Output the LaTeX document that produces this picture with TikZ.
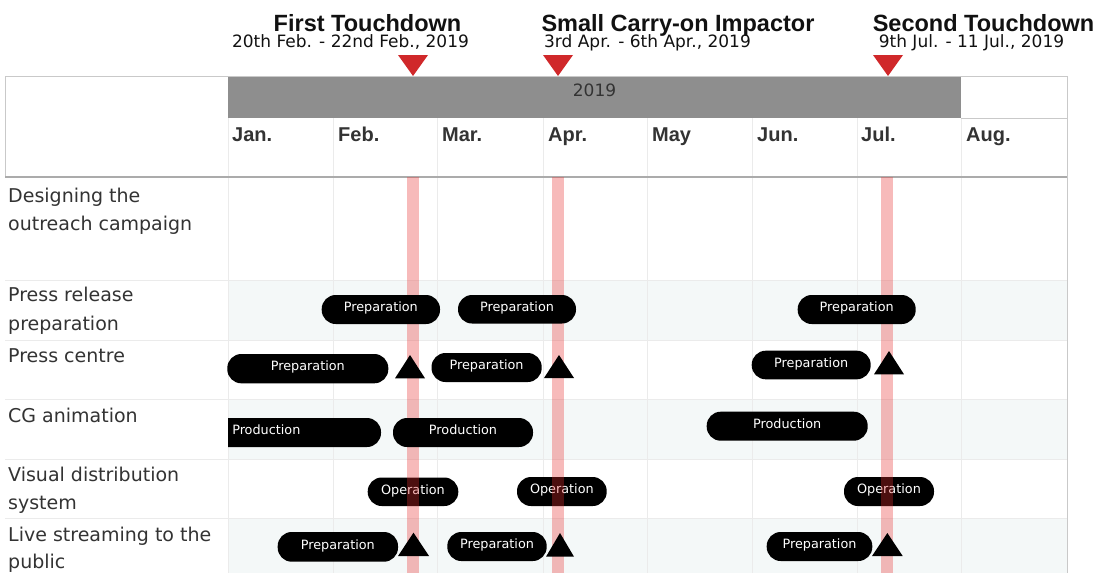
\documentclass[tikz,border=0pt]{standalone}
\usepackage{fontspec}
\setmainfont{DejaVu Sans}
\newfontfamily\headfont{Liberation Sans}

\definecolor{labelgray}{HTML}{333333}
\definecolor{titleblack}{HTML}{111111}
\definecolor{gridgray}{HTML}{EBEBEB}
\definecolor{bordergray}{HTML}{C9C9C9}
\definecolor{rulegray}{HTML}{ABABAB}
\definecolor{bargray}{HTML}{8E8E8E}
\definecolor{rowtint}{HTML}{F4F8F8}
\definecolor{stripered}{HTML}{E83030}
\definecolor{markred}{HTML}{D0282A}

% activity bar: name, left x, right x, top y, bottom y, text
\newcommand{\gpill}[6]{%
  \node[pill, minimum width={#3-#2}, minimum height={#5-#4}] (#1)
    at ({(#2+#3)/2},{(#4+#5)/2}) {#6};}
% black milestone triangle: left x, right x, apex y, base y
\newcommand{\milestonemark}[4]{%
  \fill[milestone] (#1,#4) -- ({(#1+#2)/2},#3) -- (#2,#4) -- cycle;}
% red event marker above the year bar, centred on x
\newcommand{\eventmark}[1]{%
  \fill[markred] ({#1-15},55) -- ({#1+15},55) -- (#1,76) -- cycle;}

\begin{document}
\begin{tikzpicture}[x=1pt,y=-1pt,
  pill/.style={fill=black, rounded corners=14pt, inner sep=0pt, text=white,
    font=\fontsize{12.8}{14}\selectfont, text height=9.5pt, text depth=5pt},
  rowlabel/.style={anchor=base west, inner sep=0pt, text=labelgray,
    font=\fontsize{19}{22}\selectfont},
  month/.style={anchor=base west, inner sep=0pt, text=labelgray,
    font=\headfont\bfseries\fontsize{20}{24}\selectfont},
  title/.style={anchor=base, inner sep=0pt, text=titleblack,
    font=\headfont\bfseries\fontsize{23.5}{28}\selectfont},
  subtitle/.style={anchor=base, inner sep=0pt, text=titleblack,
    font=\fontsize{17}{20}\selectfont},
  grid/.style={draw=gridgray, line width=1pt},
  stripe/.style={fill=stripered, opacity=0.33},
  milestone/.style={fill=black}]

\useasboundingbox (0,0) rectangle (1099,573);
\fill[white] (0,0) rectangle (1099,573);

% alternate row shading
\fill[rowtint] (228,280) rectangle (1067,340);
\fill[rowtint] (228,399) rectangle (1067,459);
\fill[rowtint] (228,518) rectangle (1067,573);

% month and row grid
\foreach \x in {333,437,543,647,752,857,961} \draw[grid] (\x,118) -- (\x,573);
\draw[grid] (228,76) -- (228,573);
\foreach \y in {280,340,399,459,518} \draw[grid] (5,\y) -- (1067,\y);

% header: year bar and borders
\fill[bargray] (228,76) rectangle (961,118);
\draw[bordergray] (961,118) -- (1067,118);
\draw[bordergray] (5,76) -- (1067,76);
\draw[bordergray] (5,76) -- (5,177);
\draw[bordergray] (1067,76) -- (1067,573);
\draw[rulegray, line width=2pt] (5,177.3) -- (1067,177.3);

\node[anchor=base, inner sep=0pt, text=labelgray, font=\fontsize{17}{20}\selectfont]
  (year) at (594.5,96.7) {2019};

% month labels
\node[month] (jan) at (232,141.3) {Jan.};
\node[month] (feb) at (338,141.3) {Feb.};
\node[month] (mar) at (442,141.3) {Mar.};
\node[month] (apr) at (548,141.3) {Apr.};
\node[month] (may) at (652,141.3) {May};
\node[month] (jun) at (757,141.3) {Jun.};
\node[month] (jul) at (861,141.3) {Jul.};
\node[month] (aug) at (966,141.3) {Aug.};

% event titles
\node[title] (t1) at (367.5,31.7) {First Touchdown};
\node[subtitle] (d1) at (350.5,47.7) {20th Feb. - 22nd Feb., 2019};
\node[title] (t2) at (678,31.7) {Small Carry-on Impactor};
\node[subtitle] (d2) at (647.5,47.7) {3rd Apr. - 6th Apr., 2019};
\node[title] (t3) at (983.5,31.7) {Second Touchdown};
\node[subtitle] (d3) at (971.5,47.7) {9th Jul. - 11 Jul., 2019};

\eventmark{413}
\eventmark{558}
\eventmark{888}

% row labels
\node[rowlabel] (r1a) at (8,202) {Designing the};
\node[rowlabel] (r1b) at (8,230) {outreach campaign};
\node[rowlabel] (r2a) at (8,301.7) {Press release};
\node[rowlabel] (r2b) at (8,330) {preparation};
\node[rowlabel] (r3a) at (8,362) {Press centre};
\node[rowlabel] (r4a) at (8,422.3) {CG animation};
\node[rowlabel] (r5a) at (8,481.7) {Visual distribution};
\node[rowlabel] (r5b) at (8,509.5) {system};
\node[rowlabel] (r6a) at (8,541) {Live streaming to the};
\node[rowlabel] (r6b) at (8,568.5) {public};

% operation bars sit beneath the event stripes
\gpill{op1}{367.7}{458.3}{477.5}{506}{Operation}
\gpill{op2}{517}{606.7}{477}{506}{Operation}
\gpill{op3}{844}{934}{477}{506}{Operation}

% event stripes
\fill[stripe] (407,177.3) rectangle (419,573);
\fill[stripe] (551.5,177.3) rectangle (563.5,573);
\fill[stripe] (881,177.3) rectangle (893,573);

% press release preparation
\gpill{pr1}{321.7}{440}{295}{324}{Preparation}
\gpill{pr2}{458}{576}{295}{323.5}{Preparation}
\gpill{pr3}{797.7}{915.7}{295}{324}{Preparation}

% press centre
\gpill{pc1}{227.3}{388.3}{354}{383.3}{Preparation}
\gpill{pc2}{431.5}{541.7}{353}{382}{Preparation}
\gpill{pc3}{751.7}{870.7}{350.7}{379.3}{Preparation}
\milestonemark{395}{425}{355}{378.3}
\milestonemark{544}{574}{355}{378}
\milestonemark{874}{904}{351}{374.3}

% CG animation
\begin{scope}
  \clip (228,400) rectangle (500,460);
  \gpill{cg1}{151.6}{381}{418}{447}{Production}
\end{scope}
\gpill{cg2}{393}{533}{418}{447}{Production}
\gpill{cg3}{706.7}{867.7}{411.7}{440.7}{Production}

% live streaming
\gpill{ls1}{277.7}{398}{532}{561.7}{Preparation}
\gpill{ls2}{447.3}{546.7}{532}{561}{Preparation}
\gpill{ls3}{766.7}{872.3}{532}{561}{Preparation}
\milestonemark{398}{429}{532.7}{556}
\milestonemark{546}{574}{533}{556.7}
\milestonemark{872}{902.7}{533}{556}

\end{tikzpicture}
\end{document}
